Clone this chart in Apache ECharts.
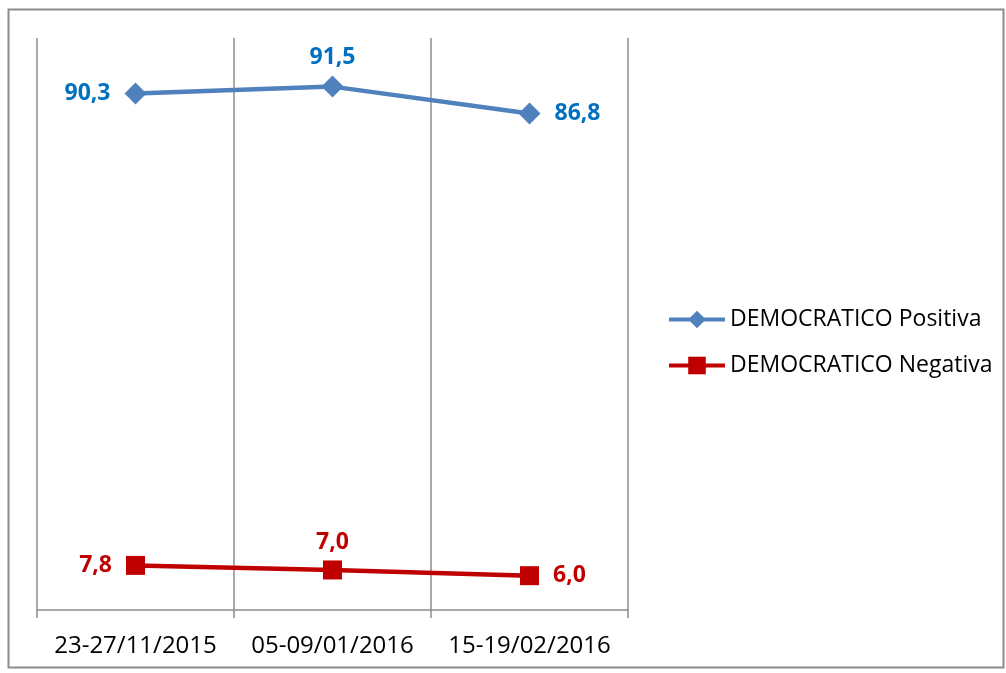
<!DOCTYPE html>
<html>
<head>
<meta charset="utf-8">
<script src="https://cdn.jsdelivr.net/npm/echarts@6/dist/echarts.min.js"></script>
<style>
  html, body { margin: 0; padding: 0; background: #fff; }
  #chart { width: 1006px; height: 673px; }
</style>
</head>
<body>
<div id="chart"></div>
<script>
// data
var periods = ['23-27/11/2015', '05-09/01/2016', '15-19/02/2016'];
var positiva = [90.3, 91.5, 86.8];
var negativa = [7.8, 7.0, 6.0];
var labelPos = ['left', 'top', 'right'];

var font = '"Open Sans", sans-serif';

function withLabels(values) {
  return values.map(function (v, i) {
    return {
      value: v,
      label: { position: labelPos[i], distance: labelPos[i] === 'top' ? 7 : 14 }
    };
  });
}

function comma(p) {
  return p.value.toFixed(1).replace('.', ',');
}

var chart = echarts.init(document.getElementById('chart'));
chart.setOption({
  animation: false,
  textStyle: { fontFamily: font },
  graphic: [{
    type: 'rect',
    shape: { x: 8.5, y: 9.5, width: 995, height: 658 },
    style: { fill: 'none', stroke: '#8c8c8c', lineWidth: 2 },
    silent: true
  }],
  grid: { left: 37, right: 378, top: 38, bottom: 63 },
  legend: {
    orient: 'vertical',
    left: 662,
    top: 303,
    itemWidth: 56,
    itemHeight: 22,
    itemGap: 23,
    lineStyle: { width: 4 },
    textStyle: { fontFamily: font, fontSize: 23, color: '#000' },
    data: ['DEMOCRATICO Positiva', 'DEMOCRATICO Negativa']
  },
  xAxis: {
    type: 'category',
    data: periods,
    boundaryGap: true,
    axisLine: { lineStyle: { color: '#8c8c8c', width: 1.5 } },
    axisTick: { show: true, interval: 0, length: 8, lineStyle: { color: '#8c8c8c', width: 1.5 } },
    splitLine: { show: true, interval: 0, lineStyle: { color: '#8c8c8c', width: 1.5 } },
    axisLabel: { interval: 0, hideOverlap: false, fontFamily: font, fontSize: 24, color: '#000', margin: 24 }
  },
  yAxis: {
    type: 'value',
    min: 0,
    max: 100,
    show: false,
    splitLine: { show: false }
  },
  series: [
    {
      name: 'DEMOCRATICO Positiva',
      type: 'line',
      data: withLabels(positiva),
      symbol: 'diamond',
      symbolSize: 22,
      lineStyle: { color: '#4F81BD', width: 4.5 },
      itemStyle: { color: '#4F81BD' },
      label: {
        show: true,
        fontFamily: font,
        fontSize: 23,
        fontWeight: 'bold',
        color: '#0070C0',
        formatter: comma
      }
    },
    {
      name: 'DEMOCRATICO Negativa',
      type: 'line',
      data: withLabels(negativa),
      symbol: 'rect',
      symbolSize: 19,
      lineStyle: { color: '#C00000', width: 4.5 },
      itemStyle: { color: '#C00000' },
      label: {
        show: true,
        fontFamily: font,
        fontSize: 23,
        fontWeight: 'bold',
        color: '#C00000',
        formatter: comma
      }
    }
  ]
});
</script>
</body>
</html>
